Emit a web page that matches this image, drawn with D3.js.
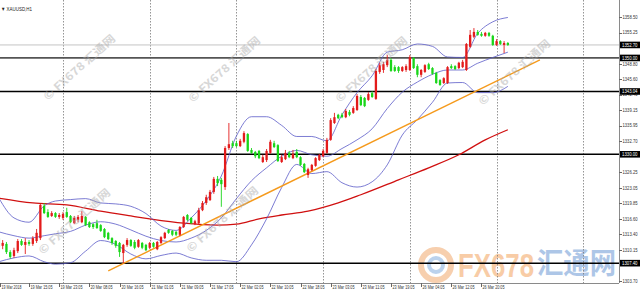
<!DOCTYPE html>
<html><head><meta charset="utf-8">
<script src="https://cdn.jsdelivr.net/npm/d3@7"></script>
<style>html,body{margin:0;padding:0;background:#fff;overflow:hidden}</style>
</head><body>
<svg id="c" width="640" height="300"></svg>
<script>
const openP = [1312.6,1311.0,1311.4,1309.7,1308.9,1309.9,1312.0,1311.2,1311.8,1311.4,
1312.0,1312.6,1319.3,1318.0,1317.2,1317.8,1317.0,1316.8,1318.0,1317.2,
1315.7,1316.4,1315.9,1317.0,1315.9,1315.5,1315.7,1315.3,1314.5,1313.7,
1312.6,1312.0,1311.6,1309.5,1311.2,1312.2,1311.8,1310.8,1311.6,1311.2,
1310.6,1311.6,1310.3,1311.6,1312.6,1314.3,1314.1,1313.9,1313.3,1314.9,
1317.4,1316.8,1315.5,1315.7,1318.4,1319.9,1320.5,1322.2,1324.9,1324.7,
1323.2,1331.3,1332.3,1332.3,1331.7,1332.6,1334.2,1330.9,1330.5,1330.7,
1328.4,1328.8,1330.3,1332.3,1331.9,1328.4,1329.0,1330.3,1329.2,1330.5,
1329.4,1328.0,1325.7,1326.7,1327.6,1328.8,1329.6,1330.3,1333.0,1336.5,
1338.2,1338.2,1337.7,1338.8,1338.6,1339.2,1341.9,1341.7,1341.3,1342.7,
1341.5,1347.1,1347.5,1348.5,1349.6,1348.1,1348.1,1347.3,1347.5,1347.5,
1350.0,1348.3,1346.5,1347.1,1348.7,1347.9,1346.9,1345.4,1344.8,1344.8,
1348.3,1348.3,1347.9,1348.1,1347.5,1352.3,1354.4,1355.4,1355.0,1354.6,
1355.2,1354.6,1352.7,1353.5,1352.7,1353.1];
const highP = [1313.0,1312.2,1311.8,1310.1,1310.6,1312.4,1312.4,1312.6,1312.2,1313.0,
1314.5,1319.7,1319.9,1318.6,1318.2,1318.0,1317.8,1318.0,1318.9,1317.4,
1317.2,1317.4,1318.2,1317.2,1316.1,1315.7,1316.4,1315.5,1314.7,1313.9,
1312.8,1312.2,1311.8,1311.4,1312.6,1312.4,1312.2,1312.4,1311.8,1311.4,
1311.8,1311.8,1312.0,1313.0,1313.9,1314.5,1314.3,1314.1,1315.1,1317.2,
1317.6,1317.0,1316.4,1318.9,1320.3,1321.6,1322.6,1325.3,1325.5,1325.1,
1331.7,1336.5,1332.8,1332.8,1333.2,1334.8,1334.4,1331.3,1330.7,1330.9,
1329.9,1331.1,1333.0,1332.8,1332.1,1329.9,1330.9,1330.7,1330.9,1331.1,
1329.6,1328.2,1327.2,1328.0,1329.4,1330.1,1331.1,1333.4,1337.5,1338.6,
1338.4,1338.6,1339.4,1339.2,1340.0,1342.5,1342.3,1341.9,1342.9,1343.1,
1347.7,1349.0,1349.2,1350.6,1350.0,1348.5,1348.3,1348.3,1348.7,1350.6,
1350.2,1348.7,1347.7,1348.7,1349.0,1348.1,1347.1,1345.6,1346.0,1348.3,
1348.7,1348.5,1349.2,1349.6,1353.1,1355.8,1356.2,1355.8,1355.4,1355.4,
1355.4,1354.8,1353.9,1353.7,1353.5,1353.3];
const lowP = [1310.3,1310.3,1309.3,1308.3,1308.5,1309.5,1311.0,1309.3,1311.0,1311.0,
1311.6,1312.2,1317.6,1316.8,1317.0,1316.8,1316.6,1316.4,1316.8,1315.7,
1315.5,1315.9,1315.7,1315.1,1314.7,1314.5,1314.5,1313.9,1312.6,1312.2,
1311.2,1310.6,1308.7,1307.4,1310.8,1310.8,1310.3,1310.6,1310.3,1309.9,
1310.3,1310.6,1310.1,1311.4,1312.4,1313.5,1313.0,1313.0,1313.0,1314.7,
1316.1,1315.5,1315.3,1315.5,1318.2,1319.5,1320.3,1321.8,1323.4,1319.1,
1322.6,1330.9,1331.3,1331.5,1331.5,1332.3,1330.5,1330.1,1329.2,1329.0,
1328.2,1328.4,1330.1,1331.3,1328.4,1328.2,1328.8,1329.2,1329.0,1329.2,
1327.6,1326.1,1325.1,1326.5,1327.4,1328.6,1329.4,1330.1,1332.8,1336.3,
1337.3,1337.5,1337.5,1337.9,1338.4,1339.0,1340.0,1339.8,1341.1,1341.7,
1341.3,1346.7,1346.9,1348.1,1347.1,1347.1,1346.9,1347.1,1347.1,1347.3,
1347.7,1346.0,1346.0,1346.9,1347.5,1346.5,1344.6,1344.2,1344.6,1344.6,
1347.7,1347.5,1347.7,1347.9,1347.3,1352.1,1354.1,1354.6,1354.4,1354.4,
1354.4,1352.5,1352.5,1352.7,1351.0,1352.5];
const closeP = [1310.8,1311.6,1309.7,1308.7,1310.1,1312.0,1311.2,1311.8,1311.4,1312.6,
1313.7,1319.5,1317.8,1317.0,1317.8,1317.0,1317.4,1317.6,1317.0,1315.9,
1316.8,1317.0,1317.2,1315.3,1314.9,1314.9,1314.7,1314.1,1312.8,1312.4,
1311.6,1311.0,1309.7,1311.2,1312.2,1311.0,1310.6,1312.2,1310.6,1310.1,
1311.6,1310.8,1311.8,1312.8,1313.7,1313.7,1313.3,1313.3,1314.9,1317.0,
1316.4,1315.7,1316.1,1318.4,1319.9,1321.1,1322.2,1324.9,1324.0,1323.8,
1331.3,1332.1,1331.7,1331.7,1332.8,1334.4,1330.7,1330.3,1329.6,1329.2,
1329.4,1330.7,1332.6,1331.5,1328.6,1329.4,1330.3,1329.4,1330.1,1329.4,
1327.8,1326.3,1326.9,1327.8,1329.2,1329.9,1330.7,1333.0,1337.1,1337.7,
1337.5,1337.7,1339.0,1338.2,1339.6,1342.1,1340.2,1340.0,1342.5,1341.9,
1347.3,1348.5,1348.7,1349.6,1347.3,1347.3,1347.3,1348.1,1348.3,1350.2,
1347.9,1346.5,1347.5,1348.5,1347.7,1346.7,1344.8,1344.4,1345.8,1348.1,
1347.9,1347.7,1349.0,1349.2,1352.9,1354.8,1355.4,1354.8,1354.6,1355.2,
1354.6,1352.7,1353.5,1352.9,1353.1,1352.7];

// Bollinger bands (read at sample bars)
const bbBars   = [0,4,8,12,15,19,23,27,31,35,39,43,47,51,55,59,63,67,71,75,79,83,87,91,95,99,103,107,111,115,119,123,127,131,135];
const bbUpper  = [1320.9,1316.8,1315.9,1319.3,1320.3,1320.6,1320.8,1319.9,1319.7,1319.2,1317.7,1315.1,1314.2,1316.8,1320.4,1325.5,1333.8,1337.8,1337.8,1336.0,1333.7,1333.7,1332.8,1338.2,1342.8,1346.3,1351.2,1351.7,1352.9,1352.4,1350.2,1350.1,1355.1,1357.5,1358.4];
const bbMiddle = [1313.9,1313.1,1312.6,1313.1,1313.5,1314.0,1315.3,1316.0,1315.5,1314.3,1313.0,1312.1,1311.8,1312.6,1314.2,1316.8,1320.8,1324.5,1327.2,1329.6,1330.8,1329.9,1329.6,1331.2,1333.0,1335.3,1339.5,1342.9,1345.0,1346.6,1347.5,1347.5,1348.9,1350.1,1351.2];
const bbLower  = [1307.7,1308.5,1308.9,1307.7,1307.2,1307.5,1309.9,1312.1,1311.3,1309.3,1308.3,1309.0,1309.5,1308.5,1308.0,1308.0,1307.7,1311.2,1316.6,1323.1,1327.9,1326.0,1326.4,1324.1,1323.2,1324.3,1327.8,1334.0,1337.2,1340.8,1344.8,1344.9,1342.8,1342.8,1344.1];

// Red moving average (read at sample bars)
const maBars = [0,9,18,27,35,40,49,58,63,69,75,82,90,96,106,114,122,129,135];
const maVals = [1320.9,1319.9,1319.5,1318.2,1317.2,1316.6,1315.7,1315.3,1315.5,1316.6,1317.4,1318.2,1319.9,1321.6,1324.7,1327.2,1329.9,1333.0,1335.1];

// Orange trend line end points
const trendBars = [29, 143.5];
const trendVals = [1305.8, 1349.6];

const timeLabels = ["19 Mar 2018","19 Mar 15:05","19 Mar 23:05","20 Mar 08:05","20 Mar 16:05","21 Mar 01:05","21 Mar 09:05","21 Mar 17:05","22 Mar 02:05","22 Mar 10:05","22 Mar 18:05","23 Mar 03:05","23 Mar 11:05","23 Mar 19:05","26 Mar 04:05","26 Mar 12:05","26 Mar 20:05"];
const labelBars = [0,8,16,24,32,40,48,56,64,72,80,88,96,104,112,120,128];
const daySeparators = [17,40,63,86,109,132,155];
const priceTicks = [1358.50,1355.25,1348.80,1345.60,1342.40,1339.15,1335.95,1332.70,1326.25,1323.05,1319.85,1316.60,1313.40,1310.15,1303.70];
const levels = [1352.70,1350.00,1343.04,1330.00,1307.40];
const levelStyles = [{c:"#c4c4c4",w:1},{c:"#555",w:1.8},{c:"#000",w:1.4},{c:"#000",w:1.4},{c:"#000",w:1.4}];

const svg = d3.select("#c");
const PR = 619, PB = 283;
const x = d3.scaleLinear().domain([0,164]).range([-1.1, 617.2]);
const y = d3.scaleLinear().domain([1303.70,1358.50]).range([281,17]);

svg.append("rect").attr("width",640).attr("height",300).attr("fill","#fff");
svg.append("clipPath").attr("id","pc").append("rect").attr("x",0).attr("y",0).attr("width",PR).attr("height",PB);
const plot = svg.append("g").attr("clip-path","url(#pc)");

// big logo watermark (behind axis labels)
const lg = plot.append("g").attr("opacity",0.5);
lg.append("circle").attr("cx",436).attr("cy",265).attr("r",15).attr("fill","none").attr("stroke","#f0a060").attr("stroke-width",6);
lg.append("circle").attr("cx",436).attr("cy",265).attr("r",7).attr("fill","none").attr("stroke","#7aa6dc").attr("stroke-width",4);
lg.append("text").attr("x",458).attr("y",277).attr("font-family","Liberation Sans,Arial,sans-serif").attr("font-weight","bold").attr("font-size",33)
  .attr("textLength",76).attr("lengthAdjust","spacingAndGlyphs").attr("fill","#f29b4f").text("FX678");
lg.append("text").attr("x",537).attr("y",274).attr("font-family","'Noto Sans CJK SC',sans-serif").attr("font-weight","bold").attr("font-size",29)
  .attr("textLength",79).attr("lengthAdjust","spacingAndGlyphs").attr("fill","#5e8fd0").text("汇通网");

// day separators
plot.selectAll(".sep").data(daySeparators).join("line")
  .attr("x1",d=>Math.round(x(d))+0.5).attr("x2",d=>Math.round(x(d))+0.5)
  .attr("y1",0).attr("y2",PB).attr("stroke","#7a7a7a").attr("stroke-width",0.8).attr("stroke-dasharray","1.5,1.5");

// horizontal levels
levels.forEach((v,k)=>{
  plot.append("line").attr("x1",0).attr("x2",PR).attr("y1",y(v)).attr("y2",y(v))
    .attr("stroke",levelStyles[k].c).attr("stroke-width",levelStyles[k].w);
});

// MA
const lineGen = (bars, vals) => d3.line().x((d,i)=>x(bars[i])).y(d=>y(d)).curve(d3.curveMonotoneX)(vals);
plot.append("path").attr("d",lineGen(maBars,maVals)).attr("fill","none").attr("stroke","#d01010").attr("stroke-width",1.3);
// Bollinger
[bbUpper,bbMiddle,bbLower].forEach(arr=>{
  plot.append("path").attr("d",lineGen(bbBars,arr)).attr("fill","none").attr("stroke","#5a5ac8").attr("stroke-width",0.8);
});
// trend line
plot.append("line").attr("x1",x(trendBars[0])).attr("y1",y(trendVals[0])).attr("x2",x(trendBars[1])).attr("y2",y(trendVals[1]))
  .attr("stroke","#f59a1c").attr("stroke-width",1.4);

// candles
const bars = openP.map((o,i)=>({i,o,h:highP[i],l:lowP[i],c:closeP[i]}));
const col = d=> d.c>=d.o ? "#e31b1b" : "#19d619";
const cg = plot.append("g");
cg.selectAll(".wick").data(bars).join("line")
  .attr("x1",d=>x(d.i)).attr("x2",d=>x(d.i)).attr("y1",d=>y(d.h)).attr("y2",d=>y(d.l))
  .attr("stroke",col).attr("stroke-width",0.9);
cg.selectAll(".body").data(bars).join("rect")
  .attr("x",d=>x(d.i)-1.15).attr("width",2.3)
  .attr("y",d=>y(Math.max(d.o,d.c))).attr("height",d=>Math.max(0.8,Math.abs(y(d.o)-y(d.c))))
  .attr("fill",col);

// watermarks
const wm = [[80,68],[225,70],[372,70],[515,73],[75,222],[223,220]];
wm.forEach(p=>{
  plot.append("text").attr("transform",`translate(${p[0]},${p[1]}) rotate(-42)`)
    .attr("text-anchor","middle").attr("dominant-baseline","middle")
    .attr("font-family","'Noto Sans CJK SC',sans-serif").attr("font-weight","bold").attr("font-size",11)
    .attr("textLength",92).attr("lengthAdjust","spacingAndGlyphs")
    .attr("fill","#a8a8a8").attr("opacity",0.45).text("© FX678 汇通网");
});

// axes
svg.append("line").attr("x1",PR+0.5).attr("x2",PR+0.5).attr("y1",0).attr("y2",PB).attr("stroke","#8a8a8a").attr("stroke-width",1);
svg.append("line").attr("x1",0).attr("x2",PR).attr("y1",PB+0.5).attr("y2",PB+0.5).attr("stroke","#8a8a8a").attr("stroke-width",1);
const ya = svg.append("g");
priceTicks.forEach(v=>{
  ya.append("line").attr("x1",PR).attr("x2",PR+3).attr("y1",Math.round(y(v))+0.5).attr("y2",Math.round(y(v))+0.5).attr("stroke","#666");
  ya.append("text").attr("x",PR+3.5).attr("y",y(v)+1.8).attr("font-family","Liberation Sans,Arial,sans-serif").attr("font-size",5)
    .attr("textLength",15).attr("lengthAdjust","spacingAndGlyphs").attr("fill","#333").text(v.toFixed(2));
});
levels.forEach(v=>{
  ya.append("rect").attr("x",PR+1).attr("y",y(v)-3.3).attr("width",21).attr("height",6.6).attr("fill","#000");
  ya.append("text").attr("x",PR+3).attr("y",y(v)+1.9).attr("font-family","Liberation Sans,Arial,sans-serif").attr("font-size",5)
    .attr("textLength",15.5).attr("lengthAdjust","spacingAndGlyphs").attr("fill","#fff").text(v.toFixed(2));
});
const xa = svg.append("g");
labelBars.forEach((b,k)=>{
  const px = Math.max(0.5, Math.round(x(b))+0.5);
  xa.append("line").attr("x1",px).attr("x2",px).attr("y1",PB).attr("y2",PB+4).attr("stroke","#666");
  xa.append("text").attr("x",px+1).attr("y",PB+5.8).attr("font-family","Liberation Sans,Arial,sans-serif").attr("font-size",5.2)
    .attr("textLength",k===0?20:22).attr("lengthAdjust","spacingAndGlyphs").attr("fill","#333").text(timeLabels[k]);
});

// title
svg.append("text").attr("x",1).attr("y",11).attr("font-family","Liberation Sans,Arial,sans-serif").attr("font-size",5.5)
  .attr("textLength",31).attr("lengthAdjust","spacingAndGlyphs").attr("fill","#222").text("▼ XAUUSD,H1");
</script>
</body></html>
